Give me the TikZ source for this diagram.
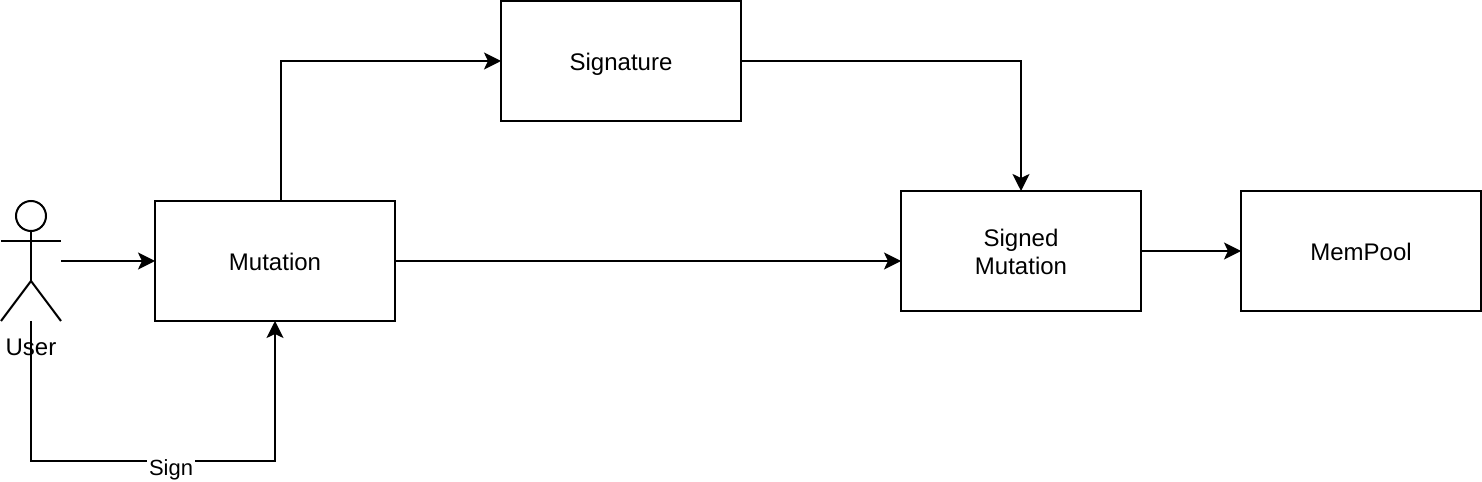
\documentclass[tikz,border=0pt]{standalone}
\usepackage{fontspec}
\setmainfont{Liberation Sans}
\usepackage{tikz}
\usetikzlibrary{positioning,arrows.meta}

\begin{document}
\begin{tikzpicture}[>={Stealth[length=0.34cm,width=0.34cm,inset=0.08cm]},line width=1.14pt,
  block/.style={rectangle,draw,inner sep=0pt,outer sep=0pt,minimum width=4.8cm,minimum height=2.4cm,align=center,font=\fontsize{13.66}{16}\selectfont},
  oneline/.style={block,text height=12pt,text depth=1.2pt},
  actor/.style={rectangle,inner sep=0pt,outer sep=0pt,minimum width=1.2cm,minimum height=2.4cm},
  tag/.style={inner sep=0pt,font=\fontsize{12.5}{15}\selectfont}]

    \useasboundingbox (0,0) rectangle (29.64,9.64);

    % The boxes
	\node [actor] at (0.62,4.42) (User) {};
	\node [tag,font=\fontsize{13.66}{16}\selectfont,below=0.34cm of User] (UserLabel) {User};
	\node [oneline] at (5.5,4.42) (Mutation) {Mutation};
	\node [oneline] at (12.42,8.42) (Signature) {Signature};
	\node [block,text height=26.8pt] at (20.42,4.62) (Signed) {Signed\\Mutation};
	\node [oneline] at (27.22,4.62) (MemPool) {MemPool};

	% The stick figure
	\draw (User.north) ++(0,-0.3) circle (0.3);
	\draw (User.north) ++(0,-0.6) -- ++(0,-1);
	\draw (User.west) ++(0,0.4) -- ++(1.2,0);
	\draw (User.south west) -- ++(0.6,0.8) -- (User.south east);

	% Helper points
	\coordinate (SignCorner) at (0.62,0.42);
	\coordinate (MutationTop) at (5.62,5.62);

	% Edges
	\draw[->] (User.east) -- (Mutation.west);
	\draw[->] (MutationTop) |- (Signature.west);
	\draw[->] (Signature.east) -| (Signed.north);
	\draw[->] (Mutation.east) -- (Mutation.east -| Signed.west);
	\draw[->] (Signed.east) -- (MemPool.west);
	\draw[->] (User.south) -- (SignCorner) -| (Mutation.south);

	\node [tag,fill=white,inner xsep=1pt] at (3.42,0.24) (Sign) {Sign};

\end{tikzpicture}
\end{document}
